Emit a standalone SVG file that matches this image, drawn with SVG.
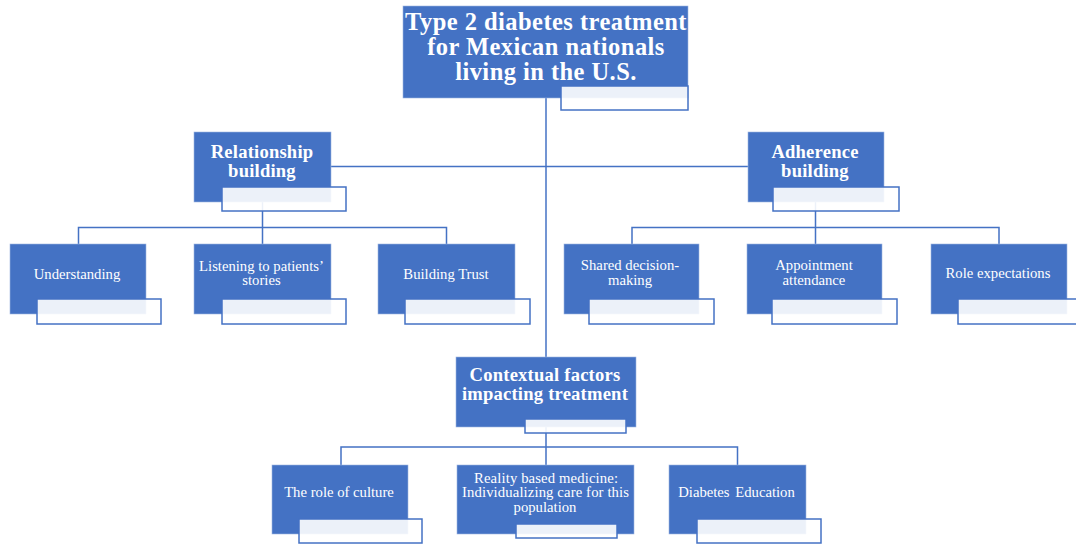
<svg xmlns="http://www.w3.org/2000/svg" width="1076" height="544" viewBox="0 0 1076 544">
<style>
.box{fill:#4472c4;stroke:#9fb5e0;stroke-width:0.6}
.sub{fill:#ffffff;fill-opacity:0.9;stroke:#4472c4;stroke-width:1.5}
.con{fill:none;stroke:#4472c4;stroke-width:1.5}
.t{font-family:"Liberation Serif","Times New Roman",serif;fill:#ffffff;text-anchor:middle}
.h0{font-size:24.5px;font-weight:bold;letter-spacing:0.45px}
.h1{font-size:18.6px;font-weight:bold;letter-spacing:0.2px}
.n{font-size:14.7px}
</style>
<rect width="1076" height="544" fill="#ffffff"/>
<g id="connectors">
<path class="con" d="M546 98V357"/>
<path class="con" d="M331 166.5H748"/>
<path class="con" d="M262.5 202V244M78.5 244V227.5H446.5V244"/>
<path class="con" d="M815.5 202V244M632 244V227.5H999V244"/>
<path class="con" d="M546 427V465M341 465V447H737.5V465"/>
</g>
<g id="root">
<rect class="box" x="403" y="6" width="285" height="92"/>
<rect class="sub" x="561" y="86" width="127" height="24"/>
<text class="t h0" x="546" y="30">Type 2 diabetes treatment</text>
<text class="t h0" x="546" y="55">for Mexican nationals</text>
<text class="t h0" x="546" y="80">living in the U.S.</text>
</g>
<g id="relationship">
<rect class="box" x="194" y="132" width="137" height="70"/>
<rect class="sub" x="222" y="187" width="124" height="24"/>
<text class="t h1" x="262" y="158">Relationship</text>
<text class="t h1" x="262" y="177">building</text>
</g>
<g id="adherence">
<rect class="box" x="748" y="132" width="136" height="70"/>
<rect class="sub" x="773" y="187" width="126" height="24"/>
<text class="t h1" x="815" y="158">Adherence</text>
<text class="t h1" x="815" y="177">building</text>
</g>
<g id="understanding">
<rect class="box" x="10" y="244" width="136" height="70"/>
<rect class="sub" x="37" y="299" width="124" height="25"/>
<text class="t n" x="77" y="279">Understanding</text>
</g>
<g id="listening">
<rect class="box" x="194" y="244" width="137" height="70"/>
<rect class="sub" x="222" y="299" width="124" height="25"/>
<text class="t n" x="261.5" y="271">Listening to patients’</text>
<text class="t n" x="261.5" y="285">stories</text>
</g>
<g id="trust">
<rect class="box" x="378" y="244" width="137" height="70"/>
<rect class="sub" x="405" y="299" width="125" height="25"/>
<text class="t n" x="446" y="279">Building Trust</text>
</g>
<g id="shared">
<rect class="box" x="564" y="244" width="135" height="70"/>
<rect class="sub" x="589" y="299" width="125" height="25"/>
<text class="t n" x="630" y="270">Shared decision-</text>
<text class="t n" x="630" y="285">making</text>
</g>
<g id="appointment">
<rect class="box" x="747" y="244" width="135" height="70"/>
<rect class="sub" x="772" y="299" width="125" height="25"/>
<text class="t n" x="814" y="270">Appointment</text>
<text class="t n" x="814" y="285">attendance</text>
</g>
<g id="role">
<rect class="box" x="931" y="244" width="136" height="70"/>
<rect class="sub" x="958" y="299" width="125" height="25"/>
<text class="t n" x="998" y="278">Role expectations</text>
</g>
<g id="contextual">
<rect class="box" x="456" y="357" width="180" height="70"/>
<rect class="sub" x="525" y="419" width="101" height="14"/>
<text class="t h1" x="545" y="381">Contextual factors</text>
<text class="t h1" x="545" y="400">impacting treatment</text>
</g>
<g id="culture">
<rect class="box" x="272" y="465" width="136" height="69"/>
<rect class="sub" x="299" y="519" width="123" height="24"/>
<text class="t n" x="339" y="497">The role of culture</text>
</g>
<g id="reality">
<rect class="box" x="457" y="465" width="177" height="69"/>
<rect class="sub" x="516" y="524" width="101" height="14"/>
<text class="t n" x="546" y="483" textLength="144" lengthAdjust="spacing">Reality based medicine:</text>
<text class="t n" x="545.5" y="497" textLength="167" lengthAdjust="spacing">Individualizing care for this</text>
<text class="t n" x="545" y="512">population</text>
</g>
<g id="education">
<rect class="box" x="669" y="465" width="137" height="69"/>
<rect class="sub" x="697" y="519" width="124" height="24"/>
<text class="t n" x="736.5" y="497" word-spacing="2">Diabetes Education</text>
</g>
</svg>
